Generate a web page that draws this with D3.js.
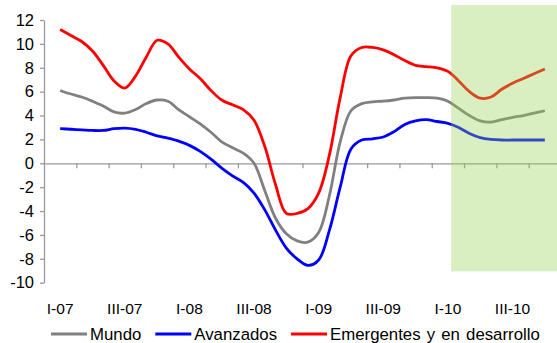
<!DOCTYPE html>
<html>
<head>
<meta charset="utf-8">
<script src="https://cdn.jsdelivr.net/npm/d3@7"></script>
<style>
  body { margin: 0; background: #fff; }
  svg { display: block; font-family: "Liberation Sans", Arial, sans-serif; }
  .axis path, .axis line { stroke: #9a9a9a; stroke-width: 1.3; }
  .axis text { fill: #000; }
</style>
</head>
<body>
<svg width="557" height="343"></svg>
<script>
// monthly values, Feb-07 .. Nov-10 (month index 1..46)
const firstMonth = 1;
const mundo = [6.1, 5.8, 5.55, 5.2, 4.8, 4.3, 4.2, 4.5, 5.0, 5.3, 5.2,
  4.5, 3.9, 3.3, 2.6, 1.8, 1.3, 0.85, 0.0, -2.3, -4.6, -5.9, -6.5,
  -6.6, -5.8, -2.7, 1.8, 4.4, 5.0, 5.15, 5.2, 5.3, 5.45, 5.5,
  5.5, 5.45, 5.2, 4.6, 4.0, 3.55, 3.45, 3.65, 3.85, 4.0, 4.2, 4.4];
const avanzados = [2.9, 2.85, 2.8, 2.75, 2.75, 2.9, 2.95, 2.85, 2.6, 2.3, 2.1,
  1.85, 1.5, 1.0, 0.35, -0.4, -1.05, -1.6, -2.5, -3.9, -5.6, -7.1, -8.0,
  -8.55, -8.1, -5.6, -2.0, 1.2, 1.95, 2.05, 2.2, 2.65, 3.25, 3.55,
  3.65, 3.5, 3.35, 3.0, 2.5, 2.15, 2.0, 1.95, 1.95, 1.95, 1.95, 1.95];
const emergentes = [11.2, 10.7, 10.2, 9.4, 8.2, 6.9, 6.3, 7.3, 8.9, 10.3, 10.0,
  8.9, 7.9, 7.1, 6.1, 5.3, 4.9, 4.5, 3.6, 1.4, -1.8, -4.2, -4.2,
  -3.8, -2.5, 0.7, 5.5, 9.0, 9.7, 9.7, 9.5, 9.1, 8.6, 8.2,
  8.1, 8.0, 7.7, 6.9, 6.0, 5.45, 5.55, 6.2, 6.7, 7.1, 7.5, 7.9];

const quarterLabels = ["I-07", "III-07", "I-08", "III-08", "I-09", "III-09", "I-10", "III-10"];
const yTicks = [-10, -8, -6, -4, -2, 0, 2, 4, 6, 8, 10, 12];
const projection = { start: 37.8, top: 13.25, bottom: -9.05 };

const series = [
  { name: "Mundo", values: mundo, color: "#808080" },
  { name: "Avanzados", values: avanzados, color: "#0000ff" },
  { name: "Emergentes y en desarrollo", values: emergentes, color: "#ff0000" }
];

const svg = d3.select("svg");

const x = d3.scaleLinear().domain([0, 48]).range([44, 561]);
const y = d3.scaleLinear().domain([-10, 12]).range([282.7, 20]);

// x axis at zero
svg.append("g")
  .attr("class", "axis")
  .attr("transform", "translate(0," + y(0) + ")")
  .call(d3.axisBottom(x)
    .tickValues(d3.range(3, 48, 3))
    .tickSize(5)
    .tickSizeOuter(0)
    .tickFormat(""));

svg.append("g")
  .attr("class", "axis")
  .attr("transform", "translate(44,0)")
  .call(d3.axisLeft(y)
    .tickValues(yTicks)
    .tickSize(4)
    .tickSizeOuter(0)
    .tickPadding(6)
    .tickFormat(d => String(d)))
  .call(g => g.selectAll("text").style("font-size", "16.5px"));

svg.append("g")
  .selectAll("text")
  .data(quarterLabels)
  .enter()
  .append("text")
  .attr("x", (d, i) => x(i * 6 + 1.5))
  .attr("y", 314)
  .attr("text-anchor", "middle")
  .style("font-size", "15.5px")
  .text(d => d);

const line = d3.line()
  .x((d, i) => x(firstMonth + i + 0.5))
  .y(d => y(d))
  .curve(d3.curveCatmullRom.alpha(0.5));

svg.append("g")
  .selectAll("path")
  .data(series)
  .enter()
  .append("path")
  .attr("fill", "none")
  .attr("stroke", d => d.color)
  .attr("stroke-width", 2.8)
  .attr("stroke-linejoin", "round")
  .attr("d", d => line(d.values));

// projection area
svg.append("rect")
  .attr("x", x(projection.start))
  .attr("y", y(projection.top))
  .attr("width", 600 - x(projection.start))
  .attr("height", y(projection.bottom) - y(projection.top))
  .attr("fill", "#92d050")
  .attr("fill-opacity", 0.35);

// legend
const legend = svg.append("g").attr("transform", "translate(0,334)");
let lx = 51;
series.forEach(s => {
  legend.append("line")
    .attr("x1", lx).attr("x2", lx + 36)
    .attr("stroke", s.color)
    .attr("stroke-width", 2.8);
  const t = legend.append("text")
    .attr("x", lx + 39)
    .attr("y", 6)
    .style("font-size", "16.8px")
    .style("word-spacing", "1.5px")
    .text(s.name);
  lx += 39 + t.node().getComputedTextLength() + 14;
});
</script>
</body>
</html>
